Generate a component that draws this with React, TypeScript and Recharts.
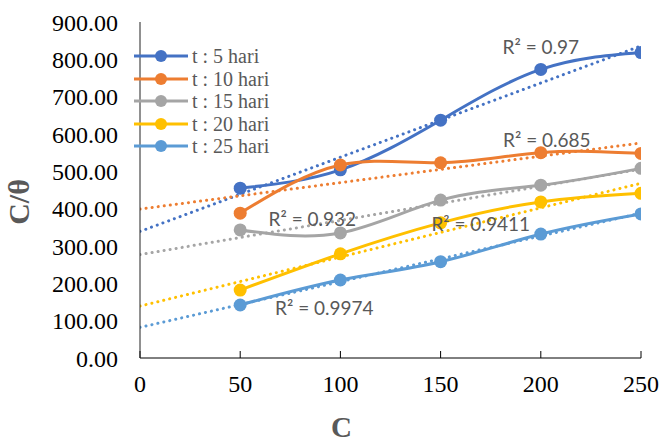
import React from "react";
import {
  LineChart,
  Line,
  XAxis,
  YAxis,
  Legend,
  Label,
  ReferenceDot,
} from "recharts";

const concentrations = [50, 100, 150, 200, 250];
const t5 = [455, 504, 637, 773, 818];
const t10 = [388, 517, 523, 550, 548];
const t15 = [343, 335, 423, 463, 508];
const t20 = [182, 279, 362, 418, 441];
const t25 = [142, 209, 258, 332, 386];

// linear trendline values read at C = 0 and C = 250
const trendStart = [339, 399, 277, 139, 82];
const trendEnd = [836, 576, 506, 468, 388];
const rSquared = ["0.97", "0.685", "0.932", "0.9411", "0.9974"];

const xTicks = [0, 50, 100, 150, 200, 250];
const yTicks = [0, 100, 200, 300, 400, 500, 600, 700, 800, 900];

const seriesNames = ["t : 5 hari", "t : 10 hari", "t : 15 hari", "t : 20 hari", "t : 25 hari"];
const seriesValues = [t5, t10, t15, t20, t25];
const colors = ["#4472C4", "#ED7D31", "#A5A5A5", "#FFC000", "#5B9BD5"];

// where the R² text sits, in data units
const rLabelPos = [
  { x: 200, y: 833 },
  { x: 203, y: 584 },
  { x: 86, y: 372 },
  { x: 170, y: 359 },
  { x: 92, y: 134 },
];

const data = concentrations.map((c, i) => {
  const row: Record<string, number> = { c };
  seriesValues.forEach((s, k) => {
    row["s" + k] = s[i];
  });
  return row;
});

const serif = "'Liberation Serif', 'Times New Roman', serif";
const sans = "Lato, 'Liberation Sans', sans-serif";

function LegendBox() {
  return (
    <div style={{ fontFamily: serif, fontSize: 20, color: "#595959", lineHeight: "22.5px" }}>
      {seriesNames.map((name, i) => (
        <div key={name} style={{ display: "flex", alignItems: "center", height: 22.5 }}>
          <svg width={56} height={16} style={{ marginRight: 3 }}>
            <line x1={1} y1={8} x2={55} y2={8} stroke={colors[i]} strokeWidth={3} />
            <circle cx={28} cy={8} r={6} fill={colors[i]} />
          </svg>
          <span>{name}</span>
        </div>
      ))}
    </div>
  );
}

export default function App() {
  return (
    <div style={{ position: "absolute", left: 0, top: 0, background: "#fff" }}>
      <LineChart
        width={665}
        height={443}
        margin={{ top: 22, right: 24, left: 0, bottom: 0 }}
      >
        <XAxis
          dataKey="c"
          type="number"
          domain={[0, 250]}
          ticks={xTicks}
          allowDataOverflow
          stroke="#000"
          tickSize={-7}
          tickMargin={24}
          height={85}
          tick={{ fill: "#000", fontFamily: serif, fontSize: 24 }}
        >
          <Label
            value="C"
            position="insideBottom"
            offset={6}
            dx={-49}
            style={{ fill: "#595959", fontFamily: serif, fontSize: 29, fontWeight: "bold" }}
          />
        </XAxis>
        <YAxis
          type="number"
          domain={[0, 900]}
          ticks={yTicks}
          width={140}
          stroke="#222"
          tickLine={false}
          tickSize={0}
          tickMargin={22}
          tickFormatter={(v: number) => v.toFixed(2)}
          tick={{ fill: "#000", fontFamily: serif, fontSize: 24 }}
        >
          <Label
            value="C/θ"
            angle={-90}
            position="insideLeft"
            offset={18}
            dy={12}
            style={{
              fill: "#595959",
              fontFamily: serif,
              fontSize: 30,
              fontWeight: "bold",
              textAnchor: "middle",
            }}
          />
        </YAxis>
        <Legend
          content={<LegendBox />}
          layout="vertical"
          verticalAlign="middle"
          align="center"
          wrapperStyle={{ left: 133, top: 45, width: 170 }}
        />
        {seriesValues.map((_, k) => (
          <Line
            key={"s" + k}
            data={data}
            dataKey={"s" + k}
            name={seriesNames[k]}
            type="natural"
            stroke={colors[k]}
            strokeWidth={3}
            dot={{ r: 6.5, fill: colors[k], stroke: colors[k], strokeWidth: 0 }}
            activeDot={false}
            isAnimationActive={false}
          />
        ))}
        {trendStart.map((v, k) => (
          <Line
            key={"t" + k}
            data={[
              { c: 0, v },
              { c: 250, v: trendEnd[k] },
            ]}
            dataKey="v"
            type="linear"
            stroke={colors[k]}
            strokeWidth={3}
            strokeDasharray="0.1 6"
            strokeLinecap="round"
            dot={false}
            activeDot={false}
            legendType="none"
            isAnimationActive={false}
          />
        ))}
        {rSquared.map((r, k) => (
          <ReferenceDot
            key={"r" + k}
            x={rLabelPos[k].x}
            y={rLabelPos[k].y}
            r={0}
            fill="none"
            stroke="none"
            ifOverflow="visible"
            label={{
              value: "R² = " + r,
              position: "center",
              style: { fill: "#595959", fontFamily: sans, fontSize: 19 },
            }}
          />
        ))}
      </LineChart>
    </div>
  );
}
